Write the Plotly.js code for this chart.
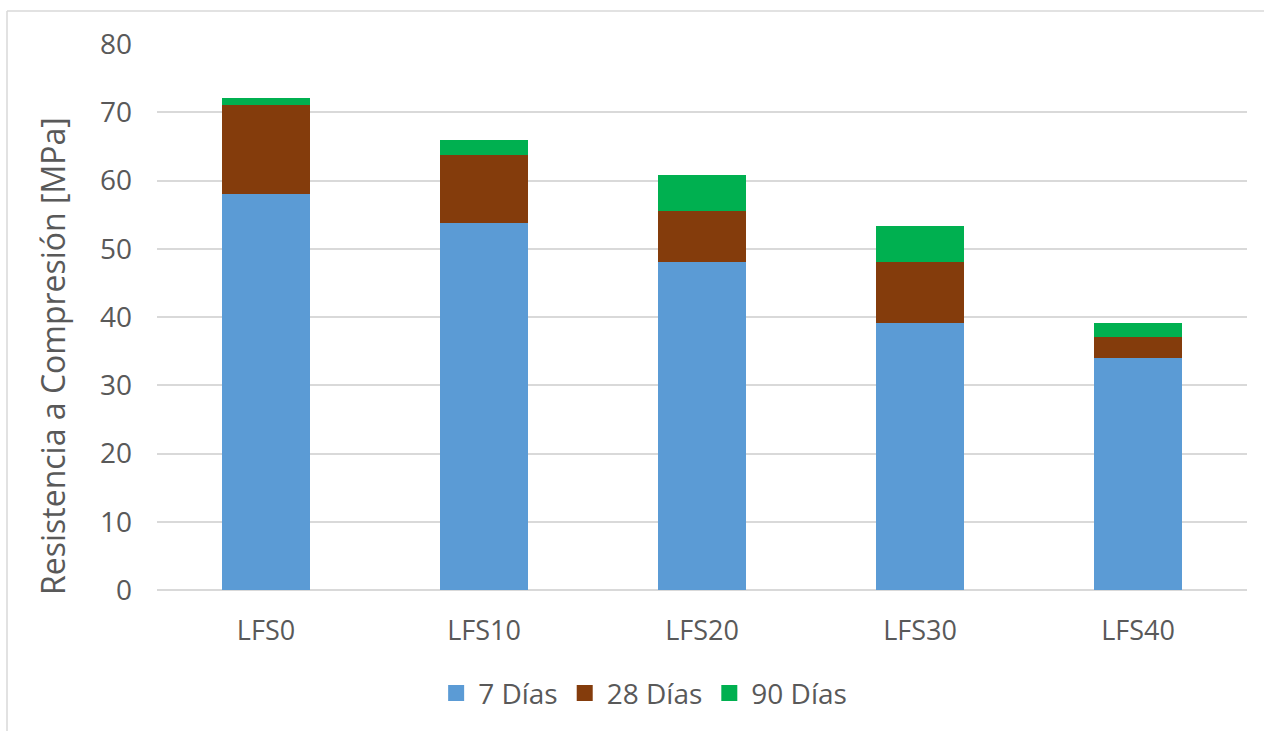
<!DOCTYPE html>
<html>
<head>
<meta charset="utf-8">
<script src="https://cdn.plot.ly/plotly-3.0.1.min.js"></script>
<style>html,body{margin:0;padding:0;background:#fff;}#chart{width:1264px;height:731px;}</style>
</head>
<body>
<div id="chart"></div>
<script>
const categories = ["LFS0", "LFS10", "LFS20", "LFS30", "LFS40"];
const seriesNames = ["7 Días", "28 Días", "90 Días"];
const dias7 = [58.0, 53.8, 48.0, 39.1, 34.0];
const dias28 = [13.0, 9.9, 7.5, 8.9, 3.0];
const dias90 = [1.1, 2.2, 5.3, 5.3, 2.1];
const yTicks = [0, 10, 20, 30, 40, 50, 60, 70, 80];
const yTitle = 'Resistencia a Compresión [MPa]';
const colors = ["#5B9BD5", "#843C0C", "#00B050"];

const values = [dias7, dias28, dias90];
const FONT = '"Open Sans", "Noto Sans", sans-serif';
const TXT = '#595959';

const traces = [];
values.forEach((v, i) => {
  traces.push({
    type: 'bar', x: categories, y: v, name: seriesNames[i],
    marker: {color: colors[i]}, showlegend: false, hoverinfo: 'x+y+name'
  });
});
values.forEach((v, i) => {
  traces.push({
    type: 'scatter', mode: 'markers', x: [categories[0]], y: [null], name: seriesNames[i],
    marker: {color: colors[i], symbol: 'square', size: 16}, showlegend: true, hoverinfo: 'skip'
  });
});

const layout = {
  width: 1264, height: 731,
  margin: {l: 157, r: 17, t: 44, b: 141},
  paper_bgcolor: '#fff', plot_bgcolor: '#fff',
  barmode: 'stack', bargap: 0.6,
  font: {family: FONT, color: TXT, size: 28},
  xaxis: {
    type: 'category', showgrid: false, zeroline: false,
    showline: false, ticks: '', ticklabelstandoff: 22,
    tickfont: {size: 27, color: TXT, family: FONT}, fixedrange: true
  },
  yaxis: {
    range: [0, 80], tickvals: yTicks, ticktext: yTicks.map(String),
    showgrid: true, gridcolor: '#D9D9D9', gridwidth: 1.5,
    zeroline: true, zerolinecolor: '#D9D9D9', zerolinewidth: 1.5,
    showline: false, ticks: '', ticklabelstandoff: 24,
    tickfont: {size: 28, color: TXT, family: FONT},
    automargin: false, fixedrange: true
  },
  annotations: [{
    text: yTitle, xref: 'paper', yref: 'paper', x: (52 - 157) / 1090, y: (590 - 356) / 546,
    xanchor: 'center', yanchor: 'middle', textangle: -90, showarrow: false,
    font: {size: 32, color: TXT, family: FONT}
  }],
  legend: {
    orientation: 'h', x: 0.446, xanchor: 'center', y: -0.189, yanchor: 'middle',
    traceorder: 'normal',
    font: {size: 28, color: TXT, family: FONT}, itemclick: false, itemdoubleclick: false,
    tracegroupgap: 0, itemwidth: 34
  },
  shapes: [
    {type: 'line', xref: 'paper', yref: 'paper', x0: (7 - 157) / 1090, x1: (7 - 157) / 1090, y0: (590 - 11) / 546, y1: -1, line: {color: '#D9D9D9', width: 1.5}},
    {type: 'line', xref: 'paper', yref: 'paper', x0: (7 - 157) / 1090, x1: 1.2, y0: (590 - 11) / 546, y1: (590 - 11) / 546, line: {color: '#D9D9D9', width: 1.5}}
  ],
  showlegend: true
};

Plotly.newPlot('chart', traces, layout, {displayModeBar: false, responsive: false});
</script>
</body>
</html>
